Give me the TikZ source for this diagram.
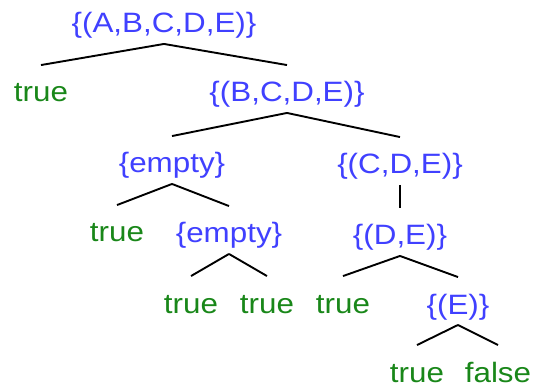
\documentclass[tikz,border=0pt]{standalone}
\usepackage{fontspec}
\setmainfont{Liberation Sans}[FakeStretch=1.12]
\usepackage{tikz}

\definecolor{setblue}{RGB}{64,64,255}
\definecolor{valgreen}{RGB}{25,135,25}

\begin{document}
\begin{tikzpicture}[x=1pt,y=-1pt,line width=1.9pt,
	set/.style={anchor=base,inner sep=0pt,text height=21pt,text depth=6pt,text=setblue,font=\fontsize{28}{30}\selectfont},
	val/.style={set,text=valgreen}]
	\useasboundingbox (0,0) rectangle (533,390);

	%SETS
	\node[set] (abcde) at (164,33) {\{(A,B,C,D,E)\}};
	\node[set] (bcde) at (287,102) {\{(B,C,D,E)\}};
	\node[set] (emptyA) at (172,173) {\{empty\}};
	\node[set] (cde) at (400,174) {\{(C,D,E)\}};
	\node[set] (emptyB) at (229,243) {\{empty\}};
	\node[set] (de) at (400,245) {\{(D,E)\}};
	\node[set] (e) at (458,314) {\{(E)\}};

	%LEAVES
	\node[val] (t1) at (41,102) {true};
	\node[val] (t2) at (117,242) {true};
	\node[val] (t3) at (191,313) {true};
	\node[val] (t4) at (267,313) {true};
	\node[val] (t5) at (343,313) {true};
	\node[val] (t6) at (417,382) {true};
	\node[val] (f1) at (498,382) {false};

	%BRANCHES
	\draw ([yshift=-4pt]abcde.south) -- ([yshift=15pt]t1.north);
	\draw ([yshift=-4pt]abcde.south) -- ([yshift=15pt]bcde.north);
	\draw ([yshift=-4pt]bcde.south) -- ([yshift=15pt]emptyA.north);
	\draw ([yshift=-4pt]bcde.south) -- ([yshift=15pt]cde.north);
	\draw ([yshift=-4pt]emptyA.south) -- ([yshift=15pt]t2.north);
	\draw ([yshift=-4pt]emptyA.south) -- ([yshift=15pt]emptyB.north);
	\draw ([yshift=-4pt]cde.south) -- ([yshift=15pt]de.north);
	\draw ([yshift=-4pt]emptyB.south) -- ([yshift=15pt]t3.north);
	\draw ([yshift=-4pt]emptyB.south) -- ([yshift=15pt]t4.north);
	\draw ([yshift=-4pt]de.south) -- ([yshift=15pt]t5.north);
	\draw ([yshift=-4pt]de.south) -- ([yshift=15pt]e.north);
	\draw ([yshift=-4pt]e.south) -- ([yshift=15pt]t6.north);
	\draw ([yshift=-4pt]e.south) -- ([yshift=15pt]f1.north);
\end{tikzpicture}
\end{document}
